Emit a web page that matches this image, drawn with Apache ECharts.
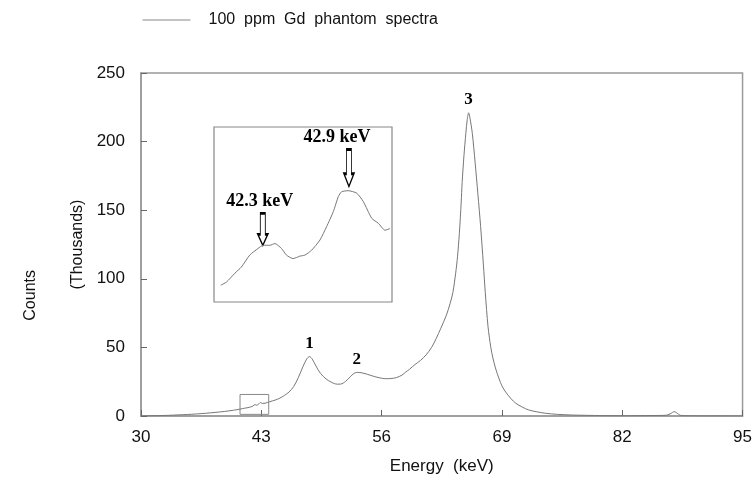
<!DOCTYPE html>
<html>
<head>
<meta charset="utf-8">
<script src="https://cdn.jsdelivr.net/npm/echarts@6/dist/echarts.min.js"></script>
<style>html,body{margin:0;padding:0;background:#fff}#c{width:755px;height:480px}</style>
</head>
<body>
<div id="c"></div>
<script>
// ---- data ----
const seriesName = '100  ppm  Gd  phantom  spectra';
const energy = [30,31,32,33,34,35,36,37,38,39,40,40.7,41.2,41.7,42.1,42.3,42.5,42.7,42.9,43.1,43.4,43.9,44.5,45.0,45.5,46.0,46.5,47.0,47.5,47.9,48.2,48.5,48.9,49.4,50.0,50.6,51.2,51.6,52.1,52.6,53.0,53.4,53.9,54.5,55.2,55.8,56.4,57.0,57.6,58.2,58.6,59.0,59.6,60.2,60.8,61.4,61.9,62.4,63.0,63.4,63.7,64.0,64.2,64.4,64.6,64.7,64.9,65.1,65.25,65.4,65.55,65.8,66.1,66.4,66.7,67.0,67.2,67.5,67.8,68.0,68.3,68.7,69.0,69.4,70.0,70.5,71.2,71.9,72.8,73.7,75,76.6,78,80,82,84,85,86,86.8,87.3,87.6,87.9,88.3,89,91,95];
const counts = [0.1,0.2,0.3,0.5,0.8,1.1,1.5,2.0,2.6,3.3,4.2,5.0,5.7,6.3,7.3,8.3,7.9,8.6,9.8,9.2,9.3,10.4,11.6,13.0,15.0,17.5,21.5,28,36,41.5,43.3,41.5,36.5,31,27,24.5,23.2,23.3,25.2,28.5,31.0,31.8,31.4,30.3,28.8,27.8,27.2,27.3,28.0,29.8,32.0,34.0,37.5,40.5,44.5,50,56.5,64,73.5,82,90,104,116,133,156,170,190,206,216,221,217,206,185,162,138,110,90,65,50,43,35,27,22,17.5,12.5,9.3,6.5,4.4,3.0,2.0,1.2,0.7,0.5,0.3,0.2,0.3,0.35,0.4,0.6,2.0,3.2,2.2,0.5,0.2,0.1,0.05];

const insetEnergy = [42.007,42.047,42.105,42.151,42.209,42.267,42.302,42.349,42.384,42.430,42.465,42.511,42.558,42.593,42.640,42.698,42.744,42.791,42.826,42.849,42.895,42.954,43.000,43.059,43.105,43.151,43.186];
const insetCounts = [6.48,6.57,6.82,7.00,7.34,7.53,7.62,7.62,7.67,7.53,7.34,7.24,7.31,7.34,7.48,7.77,8.15,8.58,9.01,9.15,9.18,9.11,8.87,8.39,8.25,8.05,8.10];

const peakLabels = ['1','2','3'];
const peakEnergy = [48.2,53.3,65.4];
const peakCounts = [43.3,31.8,221];

const arrowLabels = ['42.3 keV','42.9 keV'];
const arrowEnergy = [42.3,42.9];
const arrowCounts = [7.62,9.3];

const zoomBoxEnergy = [40.7,43.8];
const zoomBoxCounts = [1.2,15.7];

const xMin = 30, xMax = 95, xStep = 13;
const yMin = 0, yMax = 250, yStep = 50;
const insetXRange = [41.96,43.2];
const insetYRange = [6,11];

// ---- chart ----
const chart = echarts.init(document.getElementById('c'));
const AX = '#999';
const TXT = '#111';
const SANS = 'Liberation Sans, Arial, sans-serif';
const SERIF = 'Liberation Serif, Times New Roman, serif';
const arrowPath = 'path://M2.5,0 L7.5,0 L7.5,21 L10,21 L5,32 L0,21 L2.5,21 Z';

const option = {
  animation: false,
  backgroundColor: '#fff',
  legend: {
    data: [seriesName],
    left: 137, top: 7, padding: 5,
    itemWidth: 48, itemHeight: 14,
    itemStyle: {color: 'rgba(0,0,0,0)', borderWidth: 0, opacity: 0},
    lineStyle: {color: '#888', width: 1},
    formatter: name => '{n|' + name + '}',
    textStyle: {
      fontFamily: SANS, fontSize: 16, color: TXT,
      rich: {n: {fontFamily: SANS, fontSize: 16, color: TXT, padding: [0, 0, 0, 13]}}
    }
  },
  graphic: [{
    type: 'text', left: 23, top: 270, rotation: Math.PI/2,
    style: {text: 'Counts', font: '16px ' + SANS, fill: TXT, textAlign: 'center', textVerticalAlign: 'middle'}
  }],
  grid: [
    {left: 141, top: 73, right: 11, bottom: 62, show: true, borderColor: AX, borderWidth: 1.5, backgroundColor: 'transparent'},
    {left: 214, top: 127, width: 178, height: 175, show: true, borderColor: '#888', borderWidth: 1.2, backgroundColor: '#fff', z: 5}
  ],
  xAxis: [{
    gridIndex: 0, type: 'value', min: xMin, max: xMax, interval: xStep,
    name: 'Energy  (keV)', nameLocation: 'middle', nameGap: 42,
    nameTextStyle: {fontFamily: SANS, fontSize: 17, color: TXT},
    axisLine: {lineStyle: {color: AX, width: 1.5}},
    axisTick: {inside: true, length: 6, lineStyle: {color: '#666'}},
    axisLabel: {fontFamily: SANS, fontSize: 17, color: TXT, margin: 13},
    splitLine: {show: false}
  }, {
    gridIndex: 1, type: 'value', min: insetXRange[0], max: insetXRange[1], show: false
  }],
  yAxis: [{
    gridIndex: 0, type: 'value', min: yMin, max: yMax, interval: yStep,
    name: '(Thousands)', nameLocation: 'middle', nameGap: 54, nameRotate: 90,
    nameTextStyle: {fontFamily: SANS, fontSize: 16, color: TXT},
    axisLine: {show: true, lineStyle: {color: AX, width: 1.5}},
    axisTick: {show: true, inside: true, length: 6, lineStyle: {color: '#666'}},
    axisLabel: {fontFamily: SANS, fontSize: 17, color: TXT, margin: 16},
    splitLine: {show: false}
  }, {
    gridIndex: 1, type: 'value', min: insetYRange[0], max: insetYRange[1], show: false
  }],
  series: [{
    name: seriesName, type: 'line', xAxisIndex: 0, yAxisIndex: 0,
    data: energy.map((e, i) => [e, counts[i]]),
    smooth: 0.3, symbol: 'none',
    lineStyle: {color: '#777', width: 1},
    itemStyle: {color: '#777'},
    markPoint: {
      symbol: 'circle', symbolSize: 1,
      itemStyle: {color: 'rgba(0,0,0,0)'},
      label: {show: true, position: 'top', distance: 4, fontFamily: SERIF, fontWeight: 'bold', fontSize: 17, color: '#000'},
      data: peakLabels.map((t, i) => ({coord: [peakEnergy[i], peakCounts[i]], label: {formatter: t}}))
    },
    markArea: {
      silent: true,
      itemStyle: {color: 'rgba(0,0,0,0)', borderColor: '#888', borderWidth: 1},
      data: [[{coord: [zoomBoxEnergy[0], zoomBoxCounts[0]]}, {coord: [zoomBoxEnergy[1], zoomBoxCounts[1]]}]]
    }
  }, {
    name: 'inset', type: 'line', xAxisIndex: 1, yAxisIndex: 1, z: 6,
    data: insetEnergy.map((e, i) => [e, insetCounts[i]]),
    smooth: 0.2, symbol: 'none',
    lineStyle: {color: '#777', width: 1},
    markPoint: {
      symbol: arrowPath, symbolOffset: [0, '-50%'],
      itemStyle: {color: '#fff', borderColor: '#000', borderWidth: 1.5},
      label: {show: true, position: 'top', distance: 2, fontFamily: SERIF, fontWeight: 'bold', fontSize: 18, color: '#000'},
      data: arrowLabels.map((t, i) => ({
        coord: [arrowEnergy[i], arrowCounts[i]],
        symbolSize: i === 0 ? [10, 32] : [10, 37],
        label: {formatter: t, offset: i === 0 ? [-3, 0] : [-12, 0]}
      }))
    }
  }]
};
chart.setOption(option);
</script>
</body>
</html>
